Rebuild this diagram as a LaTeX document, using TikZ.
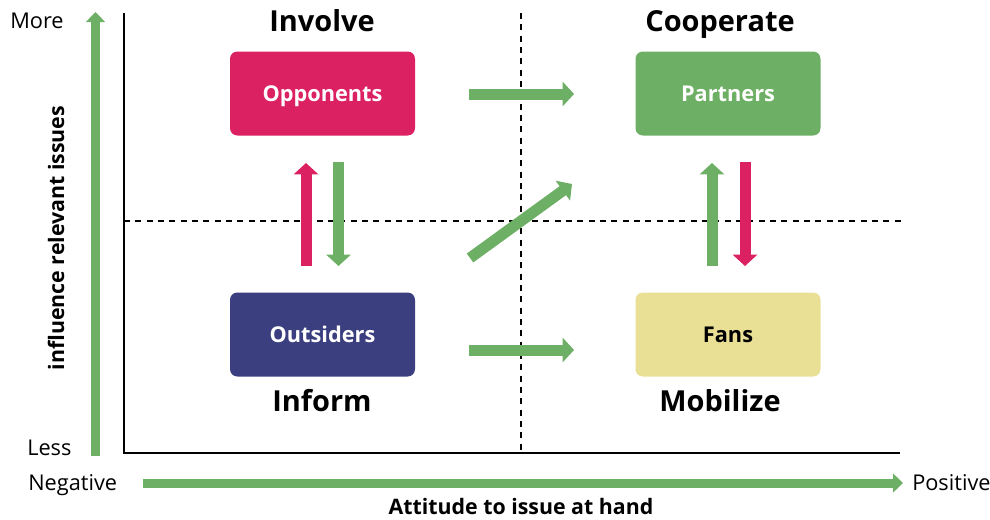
\documentclass[tikz,border=0pt]{standalone}
\usepackage{fontspec}
\setmainfont{Open Sans}
\usetikzlibrary{arrows.meta}
\definecolor{cred}{HTML}{DC2162}
\definecolor{cgreen}{HTML}{6DB065}
\definecolor{cnavy}{HTML}{3B3F7F}
\definecolor{cyellow}{HTML}{E9DF95}
\tikzset{
  box/.style={rounded corners=5.5pt, minimum width=138.75pt, minimum height=63pt, inner sep=0pt, text height=11.6pt, text depth=0pt, font=\bfseries\fontsize{16.3}{19}\selectfont},
  title/.style={font=\bfseries\fontsize{21.7}{26}\selectfont, inner sep=0pt},
  lbl/.style={font=\fontsize{16.3}{19}\selectfont, inner sep=0pt},
  axlbl/.style={font=\bfseries\fontsize{16}{19}\selectfont, inner sep=0pt},
  fat/.style={line width=8.25pt, -{Triangle[width=18pt,length=8.5pt]}},
  axarrow/.style={line width=6.75pt, cgreen, -{Triangle[width=14pt,length=7.5pt]}},
  axis/.style={line width=1.5pt, black},
  grid/.style={line width=1.1pt, black, dash pattern=on 4.5pt off 4pt},
}
\begin{document}
\begin{tikzpicture}[x=0.75pt,y=-0.75pt]
\useasboundingbox (0,0) rectangle (990,519);
% axes
\coordinate (ytop) at (124,13);
\coordinate (origin) at (124,453);
\coordinate (xend) at (900,453);
\draw[axis] (ytop) -- (origin) -- (xend);
% dashed grid
\coordinate (vdt) at (521,13);
\coordinate (vdb) at (521,453);
\coordinate (hdl) at (124,221);
\coordinate (hdr) at (903,221);
\draw[grid] (vdt) -- (vdb);
\draw[grid] (hdl) -- (hdr);
% axis arrows
\coordinate (ya0) at (95.5,456);
\coordinate (ya1) at (95.5,12);
\draw[axarrow] (ya0) -- (ya1);
\coordinate (xa0) at (143,483);
\coordinate (xa1) at (903,483);
\draw[axarrow] (xa0) -- (xa1);
% axis labels
\node[lbl, anchor=base west] (more) at (10,28) {More};
\node[lbl, anchor=base west] (less) at (27,455) {Less};
\node[lbl, anchor=base west] (neg) at (28,490) {Negative};
\node[lbl, anchor=base west] (pos) at (912,490) {Positive};
\node[axlbl, anchor=base] (xlab) at (521,514.5) {Attitude to issue at hand};
\node[axlbl, rotate=90, anchor=base] (ylab) at (64,238) {influence relevant issues};
% boxes
\node[box, fill=cred, text=white] (opp) at (322.5,93.5) {Opponents};
\node[box, fill=cgreen, text=white] (par) at (728,93.5) {Partners};
\node[box, fill=cnavy, text=white] (out) at (322.5,334.5) {Outsiders};
\node[box, fill=cyellow, text=black] (fan) at (728,334.5) {Fans};
% titles
\node[title, anchor=base] (inv) at (322,31) {Involve};
\node[title, anchor=base] (coop) at (720,31) {Cooperate};
\node[title, anchor=base] (inf) at (322,411) {Inform};
\node[title, anchor=base] (mob) at (720,411) {Mobilize};
% connector arrows
\coordinate (t0) at (469,94);
\coordinate (t1) at (574,94);
\draw[fat, cgreen] (t0) -- (t1);
\coordinate (b0) at (469,350);
\coordinate (b1) at (574,350);
\draw[fat, cgreen] (b0) -- (b1);
\coordinate (lu0) at (306,266);
\coordinate (lu1) at (306,163);
\draw[fat, cred] (lu0) -- (lu1);
\coordinate (ld0) at (338.5,162);
\coordinate (ld1) at (338.5,266);
\draw[fat, cgreen] (ld0) -- (ld1);
\coordinate (ru0) at (712,266);
\coordinate (ru1) at (712,163);
\draw[fat, cgreen] (ru0) -- (ru1);
\coordinate (rd0) at (745,162);
\coordinate (rd1) at (745,266);
\draw[fat, cred] (rd0) -- (rd1);
\coordinate (d0) at (470,258);
\coordinate (d1) at (572,184);
\draw[fat, cgreen] (d0) -- (d1);
\end{tikzpicture}
\end{document}
